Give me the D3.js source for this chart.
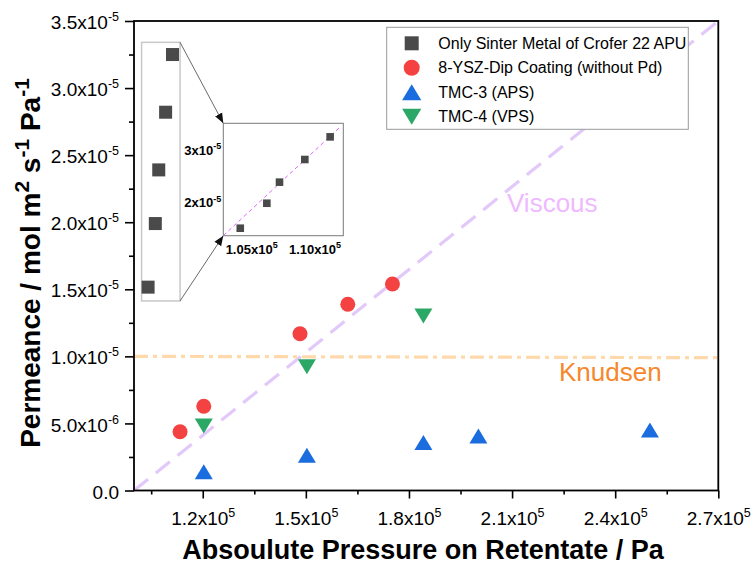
<!DOCTYPE html>
<meta charset="utf-8">
<style>
body { margin: 0; background: #fff; }
text { font-family: Arial, "Liberation Sans", sans-serif; }
</style>
<body>
<script src="https://d3js.org/d3.v7.min.js"></script>
<script>
var width = 755, height = 565;

// data
var seriesNames = ["Only Sinter Metal of Crofer 22 APU", "8-YSZ-Dip Coating (without Pd)", "TMC-3 (APS)", "TMC-4 (VPS)"];
var sinterP = [1.041e5, 1.062e5, 1.072e5, 1.092e5, 1.112e5];
var sinterK = [1.516e-5, 1.99e-5, 2.39e-5, 2.82e-5, 3.25e-5];
var yszP = [1.134e5, 1.203e5, 1.483e5, 1.622e5, 1.752e5];
var yszK = [0.438e-5, 0.628e-5, 1.169e-5, 1.388e-5, 1.539e-5];
var tmc3P = [1.203e5, 1.503e5, 1.842e5, 2.002e5, 2.501e5];
var tmc3K = [0.140e-5, 0.262e-5, 0.358e-5, 0.406e-5, 0.451e-5];
var tmc4P = [1.203e5, 1.503e5, 1.842e5];
var tmc4K = [0.481e-5, 0.923e-5, 1.301e-5];

var viscousLine = [[1.0e5, 0], [2.7e5, 3.5e-5]];
var knudsenLine = [[1.0e5, 1.0e-5], [2.7e5, 0.99e-5]];
var insetFit = [[1.0276e5, 1.374e-5], [1.12e5, 3.44e-5]];
var zoomBox = [[1.022e5, 1.413e-5], [1.134e5, 3.341e-5]];

var xTicks = [1.2e5, 1.5e5, 1.8e5, 2.1e5, 2.4e5, 2.7e5];
var xTickLabels = [["1.2", "5"], ["1.5", "5"], ["1.8", "5"], ["2.1", "5"], ["2.4", "5"], ["2.7", "5"]];
var xMinor = [1.05e5, 1.35e5, 1.65e5, 1.95e5, 2.25e5, 2.55e5];
var yTicks = [0, 0.5e-5, 1.0e-5, 1.5e-5, 2.0e-5, 2.5e-5, 3.0e-5, 3.5e-5];
var yTickLabels = [["0.0", ""], ["5.0", "-6"], ["1.0", "-5"], ["1.5", "-5"], ["2.0", "-5"], ["2.5", "-5"], ["3.0", "-5"], ["3.5", "-5"]];
var yMinor = [0.25e-5, 0.75e-5, 1.25e-5, 1.75e-5, 2.25e-5, 2.75e-5, 3.25e-5];
var insetXTicks = [1.05e5, 1.10e5];
var insetXLabels = [["1.05", "5"], ["1.10", "5"]];
var insetYTicks = [2e-5, 3e-5];
var insetYLabels = [["2", "-5"], ["3", "-5"]];

var colors = ["#4a4a4a", "#f44242", "#1b6ddf", "#2ca866"];

var margin = {left: 134, right: 718.3, top: 21, bottom: 490.5};

var x = d3.scaleLinear().domain([1.0e5, 2.7e5]).range([margin.left, margin.right]);
var y = d3.scaleLinear().domain([0, 3.5e-5]).range([margin.bottom, margin.top]);

var svg = d3.select("body").append("svg")
    .attr("width", width)
    .attr("height", height);

function sciText(sel, parts, size, supSize) {
    sel.text(null);
    sel.append("tspan").text(parts[0] + (parts[1] ? "x10" : ""));
    if (parts[1]) {
        sel.append("tspan").attr("dy", -size * 0.42).style("font-size", supSize + "px").text(parts[1]);
    }
}

// reference lines
var line = d3.line().x(function(d) { return x(d[0]); }).y(function(d) { return y(d[1]); });
svg.append("path").attr("d", line(viscousLine))
    .attr("fill", "none").attr("stroke", "#e2c9fa").attr("stroke-width", 3.2)
    .attr("stroke-dasharray", "18,10");
svg.append("path").attr("d", line(knudsenLine))
    .attr("fill", "none").attr("stroke", "#ffd9ab").attr("stroke-width", 3.2)
    .attr("stroke-dasharray", "14,5,4,5");

svg.append("text").attr("x", 507).attr("y", 212).attr("fill", "#efb9ff")
    .style("font-size", "26px").text("Viscous");
svg.append("text").attr("x", 559).attr("y", 381).attr("fill", "#f5882b")
    .style("font-size", "26px").text("Knudsen");

// magnified region
var zx0 = x(zoomBox[0][0]), zx1 = x(zoomBox[1][0]), zy0 = y(zoomBox[1][1]), zy1 = y(zoomBox[0][1]);
svg.append("rect").attr("x", zx0).attr("y", zy0).attr("width", zx1 - zx0).attr("height", zy1 - zy0)
    .attr("fill", "#fff").attr("stroke", "#c8c8c8").attr("stroke-width", 1.5);

// inset
var inset = {left: 223.3, right: 343.3, top: 123.3, bottom: 235.7};
var ix = d3.scaleLinear().domain([1.0276e5, 1.1224e5]).range([inset.left, inset.right]);
var iy = d3.scaleLinear().domain([1.374e-5, 3.507e-5]).range([inset.bottom, inset.top]);

var defs = svg.append("defs");
defs.append("marker").attr("id", "arr").attr("viewBox", "0 0 10 10")
    .attr("refX", 10).attr("refY", 5).attr("markerWidth", 10).attr("markerHeight", 10)
    .attr("markerUnits", "userSpaceOnUse").attr("orient", "auto")
    .append("path").attr("d", "M0,1L10,5L0,9Z").attr("fill", "#111");

svg.append("line").attr("x1", zx1).attr("y1", zy0).attr("x2", inset.left).attr("y2", inset.top)
    .attr("stroke", "#444").attr("stroke-width", 0.8).attr("marker-end", "url(#arr)");
svg.append("line").attr("x1", zx1).attr("y1", zy1).attr("x2", inset.left).attr("y2", inset.bottom)
    .attr("stroke", "#444").attr("stroke-width", 0.8).attr("marker-end", "url(#arr)");

svg.append("rect").attr("x", inset.left).attr("y", inset.top)
    .attr("width", inset.right - inset.left).attr("height", inset.bottom - inset.top)
    .attr("fill", "#fff").attr("stroke", "#7a7a7a").attr("stroke-width", 1);

var iline = d3.line().x(function(d) { return ix(d[0]); }).y(function(d) { return iy(d[1]); });
svg.append("path").attr("d", iline(insetFit))
    .attr("fill", "none").attr("stroke", "#e066ff").attr("stroke-width", 1)
    .attr("stroke-dasharray", "4,3");

svg.append("g").selectAll("rect").data(d3.zip(sinterP, sinterK)).join("rect")
    .attr("x", function(d) { return ix(d[0]) - 3.8; })
    .attr("y", function(d) { return iy(d[1]) - 3.8; })
    .attr("width", 7.6).attr("height", 7.6)
    .attr("fill", colors[0]);

svg.append("g").selectAll("text").data(insetXTicks).join("text")
    .attr("x", function(d) { return ix(d); }).attr("y", inset.bottom + 18)
    .attr("text-anchor", "middle").style("font-size", "13px").style("font-weight", "bold")
    .each(function(d, i) { sciText(d3.select(this), insetXLabels[i], 13, 9); });
svg.append("g").selectAll("text").data(insetYTicks).join("text")
    .attr("x", inset.left - 2).attr("y", function(d) { return iy(d) + 4.5; })
    .attr("text-anchor", "end").style("font-size", "13px").style("font-weight", "bold")
    .each(function(d, i) { sciText(d3.select(this), insetYLabels[i], 13, 9); });

// markers
var tri = function(s, up) {
    var w = s * 0.6, h = s * 0.5;
    return up ? "M0," + (-h) + "L" + w + "," + h + "L" + (-w) + "," + h + "Z"
              : "M0," + h + "L" + w + "," + (-h) + "L" + (-w) + "," + (-h) + "Z";
};

svg.append("g").selectAll("rect").data(d3.zip(sinterP, sinterK)).join("rect")
    .attr("x", function(d) { return x(d[0]) - 6.5; })
    .attr("y", function(d) { return y(d[1]) - 6.5; })
    .attr("width", 13).attr("height", 13)
    .attr("fill", colors[0]);
svg.append("g").selectAll("circle").data(d3.zip(yszP, yszK)).join("circle")
    .attr("cx", function(d) { return x(d[0]); })
    .attr("cy", function(d) { return y(d[1]); })
    .attr("r", 7.5).attr("fill", colors[1]);
svg.append("g").selectAll("path").data(d3.zip(tmc3P, tmc3K)).join("path")
    .attr("transform", function(d) { return "translate(" + x(d[0]) + "," + y(d[1]) + ")"; })
    .attr("d", tri(15, true)).attr("fill", colors[2]);
svg.append("g").selectAll("path").data(d3.zip(tmc4P, tmc4K)).join("path")
    .attr("transform", function(d) { return "translate(" + x(d[0]) + "," + y(d[1]) + ")"; })
    .attr("d", tri(15, false)).attr("fill", colors[3]);

// axes
var xAxis = svg.append("g").attr("transform", "translate(0," + margin.bottom + ")")
    .call(d3.axisBottom(x).tickValues(xTicks).tickSize(8).tickSizeOuter(0).tickPadding(13));
xAxis.select(".domain").remove();
xAxis.selectAll("line").attr("stroke-width", 1.6);
xAxis.selectAll("text").style("font-size", "19px").attr("fill", "#000")
    .each(function(d, i) { sciText(d3.select(this), xTickLabels[i], 19, 12.5); });
var xAxisMinor = svg.append("g").attr("transform", "translate(0," + margin.bottom + ")")
    .call(d3.axisBottom(x).tickValues(xMinor).tickSize(4).tickFormat(""));
xAxisMinor.select(".domain").remove();
xAxisMinor.selectAll("line").attr("stroke-width", 1.6);

var yAxis = svg.append("g").attr("transform", "translate(" + margin.left + ",0)")
    .call(d3.axisLeft(y).tickValues(yTicks).tickSize(9).tickSizeOuter(0).tickPadding(6));
yAxis.select(".domain").remove();
yAxis.selectAll("line").attr("stroke-width", 1.6);
yAxis.selectAll("text").style("font-size", "19px").attr("fill", "#000").attr("dy", "0.4em")
    .each(function(d, i) { sciText(d3.select(this), yTickLabels[i], 19, 12.5); });
var yAxisMinor = svg.append("g").attr("transform", "translate(" + margin.left + ",0)")
    .call(d3.axisLeft(y).tickValues(yMinor).tickSize(5).tickFormat(""));
yAxisMinor.select(".domain").remove();
yAxisMinor.selectAll("line").attr("stroke-width", 1.6);

svg.append("rect").attr("x", margin.left).attr("y", margin.top)
    .attr("width", margin.right - margin.left).attr("height", margin.bottom - margin.top)
    .attr("fill", "none").attr("stroke", "#000").attr("stroke-width", 1.8);

// axis titles
svg.append("text").attr("x", 423).attr("y", 558.5)
    .attr("text-anchor", "middle").style("font-size", "27px").style("font-weight", "bold")
    .text("Absoulute Pressure on Retentate / Pa");

var yt = svg.append("text").attr("transform", "translate(40,263) rotate(-90)")
    .attr("text-anchor", "middle").style("font-size", "28px").style("font-weight", "bold");
yt.append("tspan").text("Permeance / mol m");
yt.append("tspan").attr("dy", -11).style("font-size", "21px").text("2");
yt.append("tspan").attr("dy", 11).text(" s");
yt.append("tspan").attr("dy", -11).style("font-size", "21px").text("-1");
yt.append("tspan").attr("dy", 11).text(" Pa");
yt.append("tspan").attr("dy", -11).style("font-size", "21px").text("-1");

// legend
var legend = svg.append("g");
legend.append("rect").attr("x", 386.7).attr("y", 27.3).attr("width", 301.6).attr("height", 102)
    .attr("fill", "#fff").attr("stroke", "#9a9a9a").attr("stroke-width", 1);
var rowY = d3.scalePoint().domain(seriesNames).range([43.3, 116.7]);
var items = legend.selectAll("g").data(seriesNames).join("g")
    .attr("transform", function(d) { return "translate(411.7," + rowY(d) + ")"; });
items.append("text").attr("x", 26.6).attr("y", 5.5).style("font-size", "16px").attr("fill", "#000")
    .text(function(d) { return d; });
items.each(function(d, i) {
    var g = d3.select(this);
    if (i === 0) g.append("rect").attr("x", -7).attr("y", -7).attr("width", 14).attr("height", 14).attr("fill", colors[0]);
    if (i === 1) g.append("circle").attr("r", 8).attr("fill", colors[1]);
    if (i === 2) g.append("path").attr("d", tri(16, true)).attr("fill", colors[2]);
    if (i === 3) g.append("path").attr("d", tri(16, false)).attr("fill", colors[3]);
});
</script>
</body>
</html>
